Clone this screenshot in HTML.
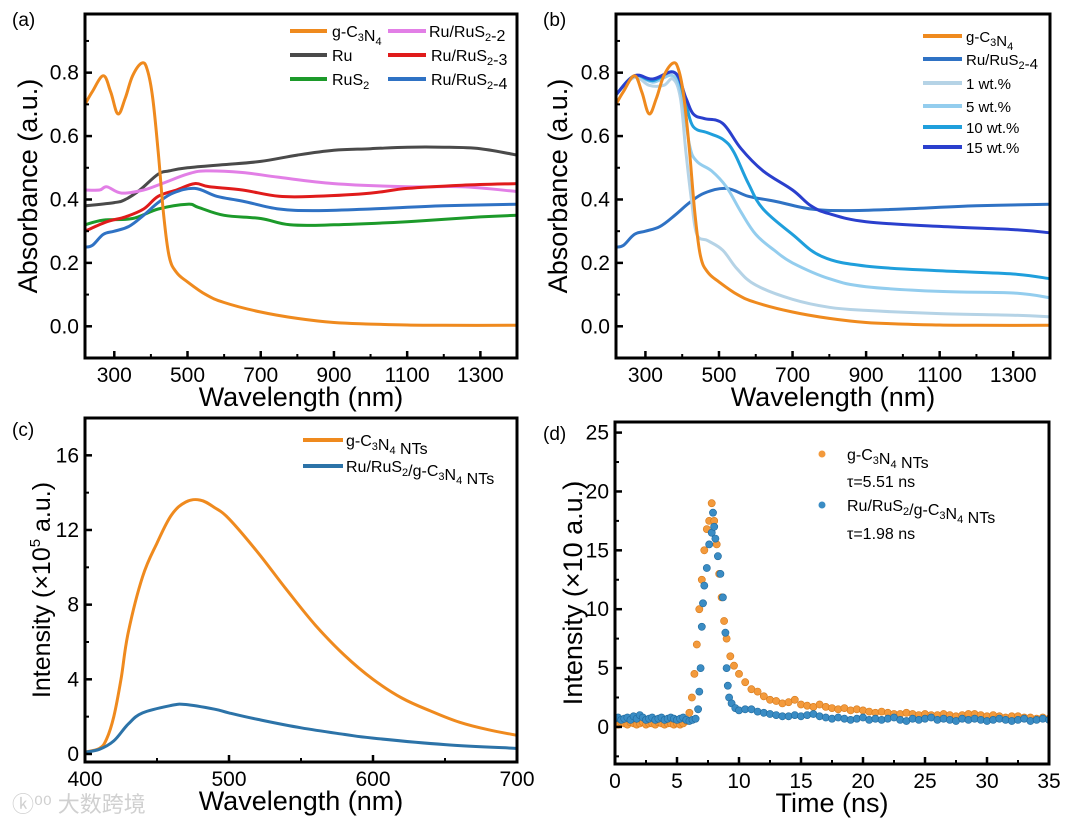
<!DOCTYPE html>
<html><head><meta charset="utf-8">
<style>
html,body{margin:0;padding:0;background:#fff;}
svg{display:block;font-family:"Liberation Sans",Arial,sans-serif;}
</style></head>
<body>
<svg id="fig" width="1080" height="824" viewBox="0 0 1080 824" xmlns="http://www.w3.org/2000/svg">
<text x="12" y="812" font-size="22" fill="#d0d0d0" font-family="'Liberation Sans','Noto Sans CJK SC',sans-serif">ⓚ⁰⁰ 大数跨境</text>
</svg>
<script>
// ---------- Panel (a) data ----------
const aX_g = [220,240,270,290,310,330,350,375,390,405,420,435,450,470,500,550,600,700,800,900,1000,1100,1200,1400];
const aY_g = [0.70,0.74,0.79,0.74,0.67,0.72,0.79,0.83,0.81,0.72,0.55,0.35,0.22,0.17,0.14,0.10,0.075,0.045,0.025,0.012,0.007,0.004,0.003,0.003];
const aX_ru = [220,300,330,370,420,450,500,600,700,800,900,1000,1100,1200,1300,1400];
const aY_ru = [0.38,0.39,0.40,0.43,0.48,0.49,0.50,0.51,0.52,0.54,0.555,0.56,0.565,0.565,0.56,0.54];
const aX_s = [220,270,350,420,500,530,600,700,780,900,1100,1300,1400];
const aY_s = [0.32,0.335,0.34,0.37,0.385,0.375,0.35,0.34,0.32,0.32,0.33,0.345,0.35];
const aX_2 = [220,260,280,320,380,430,500,550,650,750,900,1100,1250,1400];
const aY_2 = [0.43,0.43,0.44,0.42,0.43,0.45,0.48,0.49,0.485,0.47,0.45,0.44,0.44,0.425];
const aX_3 = [220,280,330,380,420,470,520,560,650,750,850,1000,1100,1250,1400];
const aY_3 = [0.30,0.33,0.345,0.37,0.41,0.43,0.45,0.44,0.43,0.41,0.41,0.42,0.435,0.445,0.45];
const aX_4 = [220,240,270,300,340,380,420,460,520,580,650,750,850,1000,1200,1400];
const aY_4 = [0.25,0.255,0.29,0.30,0.315,0.35,0.39,0.42,0.435,0.41,0.395,0.37,0.365,0.37,0.38,0.385];
// ---------- Panel (b) data ----------
const bX_1 = [220,270,310,350,375,395,410,425,440,470,510,550,600,700,800,900,1100,1300,1400];
const bY_1 = [0.73,0.785,0.76,0.76,0.78,0.72,0.55,0.40,0.29,0.27,0.24,0.18,0.13,0.085,0.06,0.05,0.04,0.035,0.03];
const bX_5 = [220,270,320,375,400,420,440,480,520,560,600,650,700,800,900,1100,1300,1400];
const bY_5 = [0.73,0.79,0.77,0.79,0.72,0.57,0.52,0.49,0.44,0.36,0.29,0.24,0.20,0.15,0.125,0.11,0.105,0.09];
const bX_10 = [220,270,320,380,410,430,470,510,540,580,620,700,780,900,1100,1300,1400];
const bY_10 = [0.73,0.79,0.775,0.80,0.70,0.63,0.61,0.59,0.55,0.45,0.37,0.29,0.22,0.19,0.175,0.165,0.15];
const bX_15 = [220,270,320,380,410,430,460,510,560,620,700,750,800,900,1100,1300,1400];
const bY_15 = [0.73,0.79,0.78,0.80,0.72,0.67,0.655,0.64,0.56,0.49,0.43,0.38,0.355,0.33,0.315,0.305,0.295];
const absTicksX = [300,500,700,900,1100,1300];
const absTicksY = [0.0,0.2,0.4,0.6,0.8];
// ---------- Panel (c) data ----------
const cX_g = [400,410,415,420,425,430,440,450,460,470,480,490,500,520,540,560,580,600,620,640,660,680,700];
const cY_g = [0.1,0.3,0.8,2,4,6.5,9.5,11.3,12.8,13.5,13.6,13.2,12.6,10.8,8.8,6.9,5.3,4.0,3.0,2.3,1.7,1.3,1.0];
const cX_r = [400,410,420,430,440,460,470,490,500,520,550,580,600,650,700];
const cY_r = [0.1,0.25,0.7,1.6,2.2,2.6,2.65,2.4,2.2,1.85,1.4,1.05,0.85,0.5,0.3];
const cTicksX = [400,500,600,700];
const cTicksY = [0,4,8,12,16];
// ---------- Panel (d) data ----------
const dT_g = [0,0.25,0.5,0.75,1,1.25,1.5,1.75,2,2.25,2.5,2.75,3,3.25,3.5,3.75,4,4.25,4.5,4.75,5,5.25,5.5,5.8,6.0,6.2,6.4,6.6,6.8,7.0,7.2,7.4,7.6,7.8,8.0,8.2,8.4,8.6,8.8,9.0,9.3,9.6,10,10.5,11,11.5,12,12.5,13,13.5,14,14.5,15,15.5,16,16.5,17,17.5,18,18.5,19,19.5,20,20.5,21,21.5,22,22.5,23,23.5,24,24.5,25,25.5,26,26.5,27,27.5,28,28.5,29,29.5,30,30.5,31,31.5,32,32.5,33,33.5,34,34.5,35];
const dY_g = [0.3,0.2,0.4,0.3,0.2,0.4,0.3,0.2,0.3,0.4,0.2,0.3,0.3,0.2,0.4,0.3,0.2,0.3,0.3,0.2,0.3,0.2,0.3,0.5,1.2,2.5,4.5,7,10,12.5,15,16.8,17.5,19,17.5,15.5,13,11,9,7.5,6,5.2,4.5,3.8,3.2,3.0,2.6,2.3,2.2,2.0,2.1,2.3,1.9,1.8,1.7,1.9,1.7,1.6,1.5,1.6,1.4,1.5,1.4,1.3,1.2,1.3,1.2,1.1,1.1,1.2,1.1,1.0,1.1,1.0,1.0,1.1,1.0,0.9,1.0,1.1,1.1,1.0,0.9,1.0,0.9,0.8,0.9,0.9,0.8,0.8,0.7,0.8,0.7];
const dT_r = [0,0.25,0.5,0.75,1,1.25,1.5,1.75,2,2.25,2.5,2.75,3,3.25,3.5,3.75,4,4.25,4.5,4.75,5,5.25,5.5,5.75,6,6.25,6.5,6.7,6.8,6.9,7.0,7.1,7.2,7.4,7.6,7.8,7.9,8.0,8.1,8.3,8.5,8.7,8.9,9.0,9.1,9.2,9.4,9.7,10,10.5,11,11.5,12,12.5,13,13.5,14,14.5,15,15.5,16,16.5,17,17.5,18,18.5,19,19.5,20,20.5,21,21.5,22,22.5,23,23.5,24,24.5,25,25.5,26,26.5,27,27.5,28,28.5,29,29.5,30,30.5,31,31.5,32,32.5,33,33.5,34,34.5,35];
const dY_r = [0.7,0.8,0.6,0.7,0.8,0.6,0.9,0.7,1.0,0.8,0.6,0.7,0.8,0.6,0.7,0.8,0.6,0.7,0.8,0.7,0.6,0.7,0.8,0.6,0.5,0.6,0.7,1.5,3,5,8.5,10.5,12,13.5,15.5,16.5,18.2,17,16,14.5,13,11,8,5,3.5,2.5,2.0,1.6,1.4,1.5,1.5,1.3,1.2,1.1,1.0,0.9,0.9,1.0,0.9,1.0,1.1,0.9,0.8,0.7,0.8,0.7,0.6,0.7,0.8,0.6,0.7,0.6,0.7,0.8,0.6,0.5,0.7,0.6,0.7,0.8,0.6,0.7,0.6,0.5,0.7,0.6,0.7,0.6,0.5,0.6,0.7,0.6,0.5,0.6,0.7,0.5,0.6,0.7,0.6];
const dTicksX = [0,5,10,15,20,25,30,35];
const dTicksY = [0,5,10,15,20,25];

const NS = 'http://www.w3.org/2000/svg';
const svg = document.getElementById('fig');
function mk(tag, attrs, parent) {
  const e = document.createElementNS(NS, tag);
  for (const k in attrs) e.setAttribute(k, attrs[k]);
  (parent || svg).appendChild(e);
  return e;
}
function scale(d0, d1, r0, r1) { return v => r0 + (v - d0) / (d1 - d0) * (r1 - r0); }
function smoothPath(pts) {
  let d = 'M' + pts[0][0].toFixed(1) + ',' + pts[0][1].toFixed(1);
  for (let i = 0; i < pts.length - 1; i++) {
    const p0 = pts[Math.max(0, i - 1)], p1 = pts[i], p2 = pts[i + 1], p3 = pts[Math.min(pts.length - 1, i + 2)];
    const t = 0.18;
    const c1x = p1[0] + (p2[0] - p0[0]) * t, c1y = p1[1] + (p2[1] - p0[1]) * t;
    const c2x = p2[0] - (p3[0] - p1[0]) * t, c2y = p2[1] - (p3[1] - p1[1]) * t;
    d += 'C' + c1x.toFixed(1) + ',' + c1y.toFixed(1) + ' ' + c2x.toFixed(1) + ',' + c2y.toFixed(1) + ' ' + p2[0].toFixed(1) + ',' + p2[1].toFixed(1);
  }
  return d;
}

function panel(p) {
  const g = mk('g', {});
  
  
  const sx = scale(p.xd[0], p.xd[1], p.L, p.R);
  const sy = scale(p.yd[0], p.yd[1], p.B, p.T);
  const cid = 'clip-' + p.name;
  const cp = mk('clipPath', {id: cid}, g);
  mk('rect', {x: p.L, y: p.T, width: p.R - p.L, height: p.B - p.T}, cp);
  const plot = mk('g', {'clip-path': 'url(#' + cid + ')'}, g);
  p.series.forEach(s => {
    if (s.dots) {
      s.x.forEach((v, i) => {
        const c = mk('circle', {cx: sx(v).toFixed(1), cy: sy(s.y[i]).toFixed(1), r: 3.6, fill: s.color, stroke: s.stroke, 'stroke-width': 0.6}, plot);
        
        
      });
    } else {
      const pts = s.x.map((v, i) => [sx(v), sy(s.y[i])]);
      const path = mk('path', {d: smoothPath(pts), fill: 'none', stroke: s.color, 'stroke-width': 3, 'stroke-linejoin': 'round'}, plot);
      
      
    }
  });
  p.tx.forEach((v, i) => {
    const x = sx(v);
    mk('line', {x1: x, x2: x, y1: p.B, y2: p.B - 7, stroke: '#000', 'stroke-width': 2.5}, g);
    const t = mk('text', {x: x, y: p.B + 24, 'font-size': 21, 'text-anchor': 'middle'}, g);
    t.textContent = v;
    
    
    if (i < p.tx.length - 1) {
      const xm = sx((v + p.tx[i + 1]) / 2);
      mk('line', {x1: xm, x2: xm, y1: p.B, y2: p.B - 4, stroke: '#000', 'stroke-width': 2}, g);
    }
  });
  p.ty.forEach((v, i) => {
    const y = sy(v);
    mk('line', {x1: p.L, x2: p.L + 7, y1: y, y2: y, stroke: '#000', 'stroke-width': 2.5}, g);
    const t = mk('text', {x: p.L - 6, y: y + 7, 'font-size': 21, 'text-anchor': 'end'}, g);
    t.textContent = p.tyl[i];
    
    
    const ym = sy(v + (p.ty[1] - p.ty[0]) / 2);
    if (ym > p.T) mk('line', {x1: p.L, x2: p.L + 4, y1: ym, y2: ym, stroke: '#000', 'stroke-width': 2}, g);
    const ym2 = sy(v - (p.ty[1] - p.ty[0]) / 2);
    if (i === 0 && ym2 < p.B) mk('line', {x1: p.L, x2: p.L + 4, y1: ym2, y2: ym2, stroke: '#000', 'stroke-width': 2}, g);
  });
  const fr = mk('rect', {x: p.L, y: p.T, width: p.R - p.L, height: p.B - p.T, fill: 'none', stroke: '#000', 'stroke-width': 3}, g);
  
  
  const xt = mk('text', {x: (p.L + p.R) / 2, y: p.xty, 'font-size': 27, 'text-anchor': 'middle'}, g);
  xt.textContent = p.xtitle;
  
  
  const yt = mk('text', {x: 0, y: 0, 'font-size': p.ytfs || 27, 'text-anchor': 'middle', transform: 'translate(' + p.ytx + ',' + ((p.T + p.B) / 2) + ') rotate(-90)'}, g);
  yt.innerHTML = p.ytitle;
  
  
  const pl = mk('text', {x: p.lx, y: p.ly, 'font-size': 19}, g);
  pl.textContent = p.label;
  
  
  p.legend.forEach(e => {
    const lg = mk('g', {}, g);
    
    
    if (e.dot) mk('circle', {cx: e.x1, cy: e.y, r: 3.5, fill: e.color}, lg);
    else if (e.x1) mk('line', {x1: e.x1, x2: e.x2, y1: e.y, y2: e.y, stroke: e.color, 'stroke-width': 4}, lg);
    const t = mk('text', {x: e.tx, y: e.y + 6, 'font-size': e.fs || 16}, lg);
    t.innerHTML = e.text;
  });
}
const sub = s => '<tspan font-size="11" dy="4">' + s + '</tspan><tspan dy="-4"></tspan>';
const GC = 'g-C' + sub('3') + 'N' + sub('4');
const C = {g:'#ef8a1e', ru:'#4a4a4a', s:'#1c9a2a', p2:'#e27fe6', r3:'#e01b1b', b4:'#2f72c4',
  w1:'#b5d3e6', w5:'#93cdee', w10:'#1f9fdc', w15:'#2a3fcd', cb:'#2c73a8'};
const absTL = absTicksY.map(v => v.toFixed(1));

panel({name:'panel-a', L:85, R:517, T:14, B:358, xd:[220,1400], yd:[-0.1,0.985],
  tx:absTicksX, ty:absTicksY, tyl:absTL, xtitle:'Wavelength (nm)', xty:406,
  ytitle:'Absorbance (a.u.)', ytx:37, label:'(a)', lx:12, ly:26,
  series:[{id:'ru',x:aX_ru,y:aY_ru,color:C.ru},{id:'rus2-2',x:aX_2,y:aY_2,color:C.p2},
    {id:'rus2',x:aX_s,y:aY_s,color:C.s},{id:'rus2-3',x:aX_3,y:aY_3,color:C.r3},
    {id:'rus2-4',x:aX_4,y:aY_4,color:C.b4},{id:'gc3n4',x:aX_g,y:aY_g,color:C.g}],
  legend:[{x1:290,x2:327,tx:332,y:31,color:C.g,text:GC},{x1:290,x2:327,tx:332,y:55,color:C.ru,text:'Ru'},
    {x1:290,x2:327,tx:332,y:79,color:C.s,text:'RuS'+sub('2')},
    {x1:388,x2:426,tx:429,y:31,color:C.p2,text:'Ru/RuS'+sub('2')+'-2'},
    {x1:388,x2:426,tx:431,y:55,color:C.r3,text:'Ru/RuS'+sub('2')+'-3'},
    {x1:388,x2:426,tx:431,y:79,color:C.b4,text:'Ru/RuS'+sub('2')+'-4'}]});

panel({name:'panel-b', L:616, R:1050, T:14, B:358, xd:[220,1400], yd:[-0.1,0.985],
  tx:absTicksX, ty:absTicksY, tyl:absTL, xtitle:'Wavelength (nm)', xty:406,
  ytitle:'Absorbance (a.u.)', ytx:567, label:'(b)', lx:543, ly:26,
  series:[{id:'rus2-4',x:aX_4,y:aY_4,color:C.b4},{id:'wt1',x:bX_1,y:bY_1,color:C.w1},
    {id:'wt5',x:bX_5,y:bY_5,color:C.w5},{id:'wt10',x:bX_10,y:bY_10,color:C.w10},
    {id:'wt15',x:bX_15,y:bY_15,color:C.w15},{id:'gc3n4',x:aX_g,y:aY_g,color:C.g}],
  legend:[{x1:923,x2:962,tx:966,y:36,color:C.g,text:GC,fs:15},
    {x1:923,x2:962,tx:966,y:59,color:C.b4,text:'Ru/RuS'+sub('2')+'-4',fs:15},
    {x1:923,x2:962,tx:966,y:83,color:C.w1,text:'1 wt.%',fs:15},
    {x1:923,x2:962,tx:966,y:106,color:C.w5,text:'5 wt.%',fs:15},
    {x1:923,x2:962,tx:966,y:127,color:C.w10,text:'10 wt.%',fs:15},
    {x1:923,x2:962,tx:966,y:147,color:C.w15,text:'15 wt.%',fs:15}]});

panel({name:'panel-c', L:85, R:517, T:418, B:762, xd:[400,700], yd:[-0.43,18.0],
  tx:cTicksX, ty:cTicksY, tyl:cTicksY.map(String), xtitle:'Wavelength (nm)', xty:810,
  ytitle:'Intensity (×10<tspan font-size="15" dy="-10">5</tspan><tspan dy="10"> a.u.)</tspan>', ytfs:25, ytx:50, label:'(c)', lx:12, ly:436,
  series:[{id:'gc3n4-nts',x:cX_g,y:cY_g,color:C.g},{id:'ru-rus2-gc3n4-nts',x:cX_r,y:cY_r,color:C.cb}],
  legend:[{x1:303,x2:343,tx:346,y:440,color:C.g,text:GC+' NTs'},
    {x1:303,x2:343,tx:346,y:466,color:C.cb,text:'Ru/RuS'+sub('2')+'/'+GC+' NTs'}]});

panel({name:'panel-d', L:615, R:1049, T:422, B:764, xd:[0,35], yd:[-3.15,25.9],
  tx:dTicksX, ty:dTicksY, tyl:dTicksY.map(String), xtitle:'Time (ns)', xty:812,
  ytitle:'Intensity (×10 a.u.)', ytfs:27, ytx:582, label:'(d)', lx:543, ly:440,
  series:[{id:'gc3n4-nts',x:dT_g,y:dY_g,color:'#f39a3c',stroke:'#d77a1a',dots:true},
    {id:'ru-rus2-gc3n4-nts',x:dT_r,y:dY_r,color:'#3a8cc4',stroke:'#1f6a9e',dots:true}],
  legend:[{dot:true,x1:822,tx:847,y:454,color:'#f39a3c',text:GC+' NTs'},
    {tx:847,y:481,text:'τ=5.51 ns'},
    {dot:true,x1:822,tx:847,y:505,color:'#3a8cc4',text:'Ru/RuS'+sub('2')+'/'+GC+' NTs'},
    {tx:847,y:533,text:'τ=1.98 ns'}]});
</script>
</body></html>
